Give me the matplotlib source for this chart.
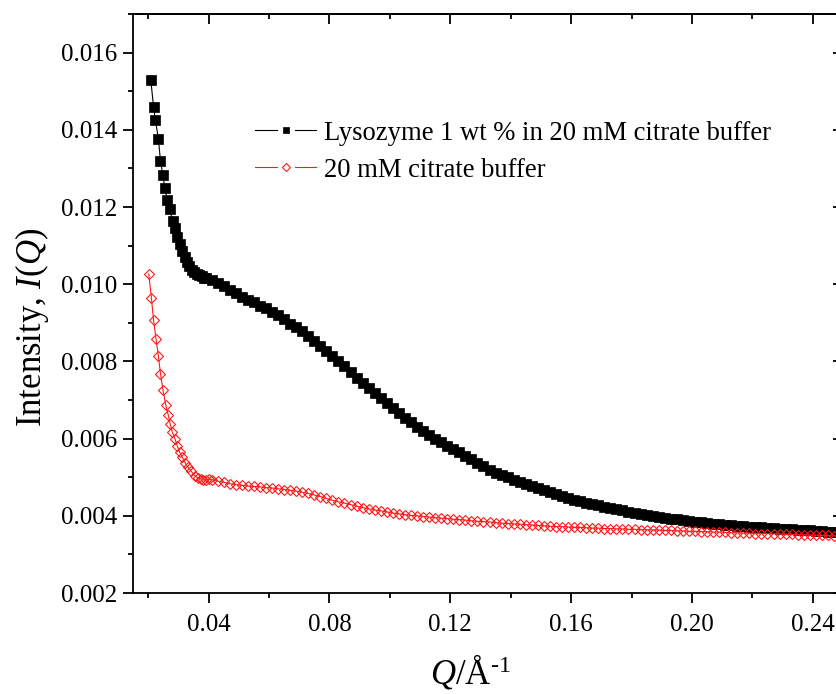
"""
SANS curve: lysozyme in citrate buffer vs buffer only
"""

import matplotlib
matplotlib.use('Agg')
import matplotlib.pyplot as plt
from matplotlib.lines import Line2D
from matplotlib.legend_handler import HandlerBase
from matplotlib.ticker import MultipleLocator, FormatStrFormatter

# low-Q points
q_lys_low = [0.0209, 0.0218, 0.0224, 0.0234, 0.0241, 0.0249, 0.0255, 0.0264, 0.0272,
             0.0281, 0.0289, 0.0297, 0.0305, 0.0313, 0.0321, 0.0329, 0.0337, 0.0345,
             0.0353, 0.0361, 0.0369, 0.0377, 0.0385, 0.0393]
i_lys_low = [0.01528, 0.01460, 0.01426, 0.01377, 0.01319, 0.01282, 0.01250, 0.01217, 0.01194,
             0.01163, 0.01145, 0.01122, 0.01103, 0.01085, 0.01070, 0.01057, 0.01047, 0.01038,
             0.01032, 0.01027, 0.01023, 0.01020, 0.01017, 0.01015]

q_buf_low = [0.0202, 0.0211, 0.0218, 0.0226, 0.0234, 0.0241, 0.0249, 0.0258, 0.0267,
             0.0273, 0.0280, 0.0289, 0.0297, 0.0304, 0.0313, 0.0322, 0.0332, 0.0343,
             0.0354, 0.0366, 0.0374, 0.0382, 0.0390, 0.0401]
i_buf_low = [0.01027, 0.00964, 0.00907, 0.00859, 0.00814, 0.00768, 0.00727, 0.00688, 0.00660,
             0.00638, 0.00617, 0.00599, 0.00580, 0.00565, 0.00552, 0.00538, 0.00526, 0.00515,
             0.00504, 0.00498, 0.00496, 0.00493, 0.00492, 0.00495]

# rest of the curves, shared Q values
q_tail = [0.041, 0.043, 0.045, 0.047, 0.049, 0.051, 0.053, 0.055, 0.057, 0.059,
          0.061, 0.063, 0.065, 0.067, 0.069, 0.071, 0.073, 0.075, 0.077, 0.079,
          0.081, 0.083, 0.085, 0.087, 0.089, 0.091, 0.093, 0.095, 0.097, 0.099,
          0.101, 0.103, 0.105, 0.107, 0.109, 0.111, 0.113, 0.115, 0.117, 0.119,
          0.121, 0.123, 0.125, 0.127, 0.129, 0.131, 0.133, 0.135, 0.137, 0.139,
          0.141, 0.143, 0.145, 0.147, 0.149, 0.151, 0.153, 0.155, 0.157, 0.159,
          0.161, 0.163, 0.165, 0.167, 0.169, 0.171, 0.173, 0.175, 0.177, 0.179,
          0.181, 0.183, 0.185, 0.187, 0.189, 0.191, 0.193, 0.195, 0.197, 0.199,
          0.201, 0.203, 0.205, 0.207, 0.209, 0.211, 0.213, 0.215, 0.217, 0.219,
          0.221, 0.223, 0.225, 0.227, 0.229, 0.231, 0.233, 0.235, 0.237, 0.239,
          0.241, 0.243, 0.245, 0.247, 0.249]
i_lys_tail = [0.01011, 0.01003, 0.00995, 0.00986, 0.00977, 0.00968, 0.00960, 0.00953, 0.00944, 0.00938,
              0.00929, 0.00920, 0.00911, 0.00898, 0.00888, 0.00878, 0.00866, 0.00853, 0.00840, 0.00827,
              0.00815, 0.00801, 0.00787, 0.00773, 0.00758, 0.00744, 0.00731, 0.00718, 0.00705, 0.00692,
              0.00679, 0.00666, 0.00654, 0.00643, 0.00631, 0.00620, 0.00610, 0.00600, 0.00591, 0.00582,
              0.00573, 0.00564, 0.00556, 0.00546, 0.00537, 0.00528, 0.00519, 0.00512, 0.00506, 0.00500,
              0.00494, 0.00488, 0.00483, 0.00477, 0.00471, 0.00466, 0.00461, 0.00456, 0.00451, 0.00446,
              0.00442, 0.00438, 0.00434, 0.00430, 0.00427, 0.00423, 0.00420, 0.00417, 0.00414, 0.00411,
              0.00408, 0.00405, 0.00402, 0.00400, 0.00397, 0.00395, 0.00393, 0.00391, 0.00389, 0.00387,
              0.00385, 0.00383, 0.00382, 0.00380, 0.00378, 0.00377, 0.00375, 0.00374, 0.00373, 0.00372,
              0.00371, 0.00370, 0.00369, 0.00368, 0.00367, 0.00366, 0.00365, 0.00364, 0.00363, 0.00362,
              0.00361, 0.00360, 0.00359, 0.00358, 0.00357]
i_buf_tail = [0.00494, 0.00490, 0.00487, 0.00483, 0.00481, 0.00479, 0.00477, 0.00476, 0.00475, 0.00473,
              0.00472, 0.00470, 0.00468, 0.00466, 0.00464, 0.00461, 0.00458, 0.00454, 0.00450, 0.00445,
              0.00440, 0.00436, 0.00433, 0.00429, 0.00425, 0.00421, 0.00418, 0.00415, 0.00413, 0.00410,
              0.00407, 0.00405, 0.00403, 0.00401, 0.00400, 0.00398, 0.00397, 0.00395, 0.00394, 0.00393,
              0.00391, 0.00390, 0.00389, 0.00387, 0.00386, 0.00385, 0.00384, 0.00382, 0.00381, 0.00380,
              0.00379, 0.00378, 0.00377, 0.00376, 0.00375, 0.00374, 0.00373, 0.00372, 0.00372, 0.00371,
              0.00370, 0.00370, 0.00369, 0.00368, 0.00368, 0.00367, 0.00367, 0.00366, 0.00366, 0.00365,
              0.00365, 0.00364, 0.00364, 0.00363, 0.00363, 0.00362, 0.00362, 0.00361, 0.00361, 0.00360,
              0.00360, 0.00359, 0.00359, 0.00358, 0.00358, 0.00357, 0.00356, 0.00356, 0.00355, 0.00355,
              0.00354, 0.00354, 0.00354, 0.00353, 0.00353, 0.00352, 0.00352, 0.00351, 0.00351, 0.00350,
              0.00350, 0.00349, 0.00349, 0.00348, 0.00348]

lys_label = 'Lysozyme 1 wt % in 20 mM citrate buffer'
buf_label = '20 mM citrate buffer'

RED = '#ff1a1a'


class GapLineHandler(HandlerBase):
    """Origin-style legend entry: line, gap, marker, gap, line"""

    def create_artists(self, legend, orig_handle, xdescent, ydescent,
                       width, height, fontsize, trans):
        y = height / 2 - ydescent
        x0 = -xdescent
        mid = x0 + width / 2
        gap = width * 0.15
        kw = dict(color=orig_handle.get_color(), linewidth=orig_handle.get_linewidth())
        left = Line2D([x0, mid - gap], [y, y], **kw)
        right = Line2D([mid + gap, x0 + width], [y, y], **kw)
        scale = 0.62 if orig_handle.get_marker() == 's' else 0.8
        mark = Line2D([mid], [y], linestyle='none', marker=orig_handle.get_marker(),
                      markersize=orig_handle.get_markersize() * scale,
                      markerfacecolor=orig_handle.get_markerfacecolor(),
                      markeredgecolor=orig_handle.get_markeredgecolor(),
                      markeredgewidth=orig_handle.get_markeredgewidth())
        for a in (left, right, mark):
            a.set_transform(trans)
        return [left, right, mark]


plt.rcParams['font.family'] = ['Liberation Serif', 'DejaVu Serif']
plt.rcParams['mathtext.fontset'] = 'custom'
plt.rcParams['mathtext.rm'] = 'Liberation Serif'
plt.rcParams['mathtext.it'] = 'Liberation Serif:italic'

fig = plt.figure(figsize=(8.36, 6.94), dpi=100)
# right edge of the axes sits just past the picture, like the original crop
ax = fig.add_axes([133 / 836, 101 / 694, 710 / 836, 579 / 694])

lys_line, = ax.plot(q_lys_low + q_tail, i_lys_low + i_lys_tail, '-', color='black', linewidth=0.8,
                    marker='s', markersize=7, markerfacecolor='black', markeredgecolor='black',
                    markeredgewidth=0.5, label=lys_label)
buf_line, = ax.plot(q_buf_low + q_tail, i_buf_low + i_buf_tail, '-', color=RED, linewidth=0.8,
                    marker='D', markersize=5.2, markerfacecolor='none', markeredgecolor=RED,
                    markeredgewidth=0.8, label=buf_label)

ax.set_xlim(0.015, 0.25)
ax.set_ylim(0.002, 0.017)

ax.xaxis.set_major_locator(MultipleLocator(0.04))
ax.xaxis.set_minor_locator(MultipleLocator(0.02))
ax.yaxis.set_major_locator(MultipleLocator(0.002))
ax.yaxis.set_minor_locator(MultipleLocator(0.001))
ax.xaxis.set_major_formatter(FormatStrFormatter('%.2f'))
ax.yaxis.set_major_formatter(FormatStrFormatter('%.3f'))

ax.tick_params(which='both', direction='out', top=False, right=False, width=1.3, labelsize=18)
ax.tick_params(which='major', length=7)
ax.tick_params(which='minor', length=3.5)
ax.tick_params(axis='x', pad=8)
ax.tick_params(axis='y', pad=4)

# inward ticks on top and right, no labels
sec_x = ax.secondary_xaxis('top')
sec_x.xaxis.set_major_locator(MultipleLocator(0.04))
sec_x.xaxis.set_minor_locator(MultipleLocator(0.02))
sec_x.tick_params(which='both', direction='in', width=1.3, labeltop=False)
sec_x.tick_params(which='major', length=7)
sec_x.tick_params(which='minor', length=3.5)
sec_x.spines['top'].set_linewidth(1.3)
sec_y = ax.secondary_yaxis('right')
sec_y.yaxis.set_major_locator(MultipleLocator(0.002))
sec_y.yaxis.set_minor_locator(MultipleLocator(0.001))
sec_y.tick_params(which='both', direction='in', width=1.3, labelright=False)
sec_y.tick_params(which='major', length=7)
sec_y.tick_params(which='minor', length=3.5)

for side in ['left', 'bottom', 'top', 'right']:
    ax.spines[side].set_linewidth(1.3)

ax.set_ylabel(r'Intensity, $I$($Q$)', fontsize=25)
ax.yaxis.set_label_coords(-0.116, 0.459)
ax.set_xlabel(r'$Q$/Å$^{\text{-}1}$', fontsize=25)
ax.xaxis.set_label_coords((470 - 133) / 710, -0.103)

ax.legend(handles=[lys_line, buf_line], loc='upper left', bbox_to_anchor=(0.172, 0.816),
          frameon=False, fontsize=19.2, handlelength=2.3, handletextpad=0.28,
          labelspacing=0.45, borderpad=0, borderaxespad=0,
          handler_map={Line2D: GapLineHandler()})

fig.savefig('out.png', dpi=100)
plt.close(fig)
